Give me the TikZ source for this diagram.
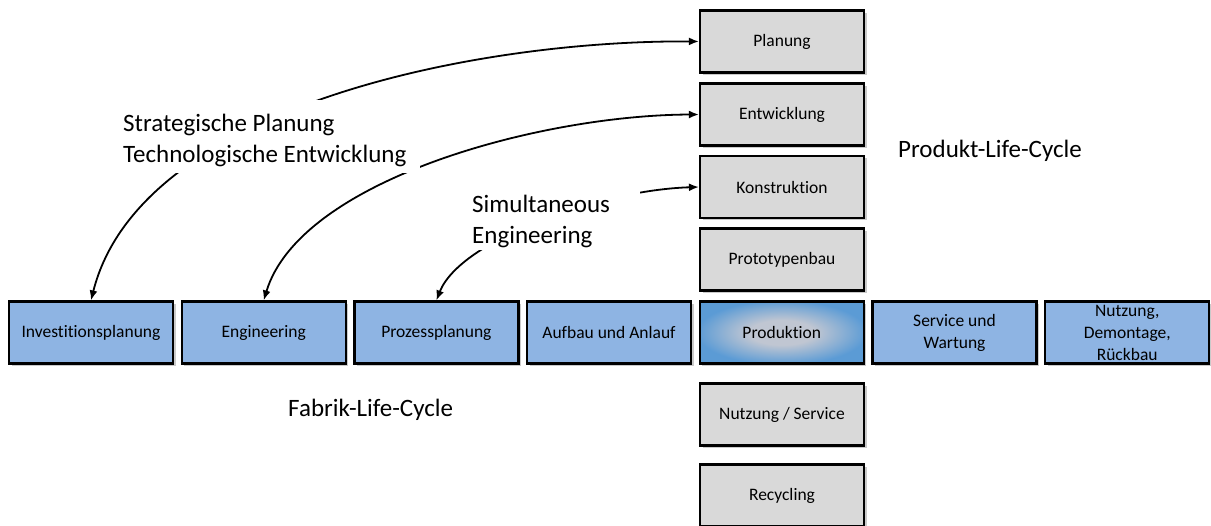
\documentclass[tikz,border=0pt]{standalone}
\usepackage{fontspec}
\setmainfont{Carlito}[RawFeature=-liga]
\usetikzlibrary{arrows.meta,shadows}
\definecolor{boxgray}{RGB}{217,217,217}
\definecolor{boxblue}{RGB}{142,180,227}
\definecolor{prodout}{RGB}{91,155,213}
\definecolor{prodin}{RGB}{192,198,210}
\pgfdeclareradialshading{prodshade}{\pgfpoint{0bp}{0bp}}{color(0bp)=(prodin); color(10bp)=(prodin); color(26bp)=(prodout); color(50bp)=(prodout)}
\tikzset{
  lcbox/.style={draw=black, line width=2.2pt, minimum width=164pt, minimum height=62pt,
    inner sep=2pt, align=center, font=\fontsize{17.5}{22}\selectfont,
    drop shadow={shadow xshift=2.5pt, shadow yshift=-2.5pt, opacity=0.35, fill=black!60}},
  prodbox/.style={lcbox, fill=boxgray},
  fabbox/.style={lcbox, fill=boxblue},
  biglabel/.style={font=\fontsize{25}{31}\selectfont, align=left},
  mask/.style={fill=white, inner sep=0pt},
  link/.style={line width=1.8pt, {Latex[length=10pt,width=8pt]}-{Latex[length=10pt,width=8pt]}}
}
\begin{document}
\begin{tikzpicture}[x=1pt,y=-1pt]
\useasboundingbox (0,0) rectangle (1211,526);
% vertical product life cycle
\node[prodbox] (plan) at (782,41.5) {Planung};
\node[prodbox] (entw) at (782,114.5) {Entwicklung};
\node[prodbox] (konst) at (782,187) {Konstruktion};
\node[prodbox] (proto) at (782,259.5) {Prototypenbau};
\node[prodbox] (nutz) at (782,414.5) {Nutzung / Service};
\node[prodbox] (recy) at (782,495.5) {Recycling};
% horizontal factory life cycle
\node[fabbox] (inv) at (91,332.5) {Investitionsplanung};
\node[fabbox] (eng) at (263.7,332.5) {Engineering};
\node[fabbox] (proz) at (436.4,332.5) {Prozessplanung};
\node[fabbox] (aufb) at (609,332.5) {Aufbau und Anlauf};
\node[lcbox, shading=prodshade] (prod) at (781.8,332.5) {Produktion};
\node[fabbox] (serv) at (954.5,332.5) {Service und\\Wartung};
\node[fabbox] (demo) at (1127.2,332.5) {Nutzung,\\Demontage,\\Rückbau};
% connectors
\draw[link] (plan.west) .. controls (480,40) and (140,105) .. (inv.north);
\draw[link] (entw.west) .. controls (540,115) and (300,180) .. (eng.north);
\draw[link] (konst.west) .. controls (600,190) and (460,240) .. (proz.north);
% labels with white backgrounds covering connectors
\node[mask, minimum width=302pt, minimum height=73pt] (maskA) at (269,136.5) {};
\node[biglabel, anchor=west, inner sep=0pt] (strat) at (123,140) {Strategische Planung\\Technologische Entwicklung};
\node[mask, minimum width=172pt, minimum height=65pt] (maskB) at (554,217.5) {};
\node[biglabel, anchor=west, inner sep=0pt] (simul) at (472,221.5) {Simultaneous\\Engineering};
\node[biglabel, anchor=west, inner sep=0pt] (prodlc) at (898,151) {Produkt-Life-Cycle};
\node[biglabel, anchor=west, inner sep=0pt] (fablc) at (288,410) {Fabrik-Life-Cycle};
\end{tikzpicture}
\end{document}
